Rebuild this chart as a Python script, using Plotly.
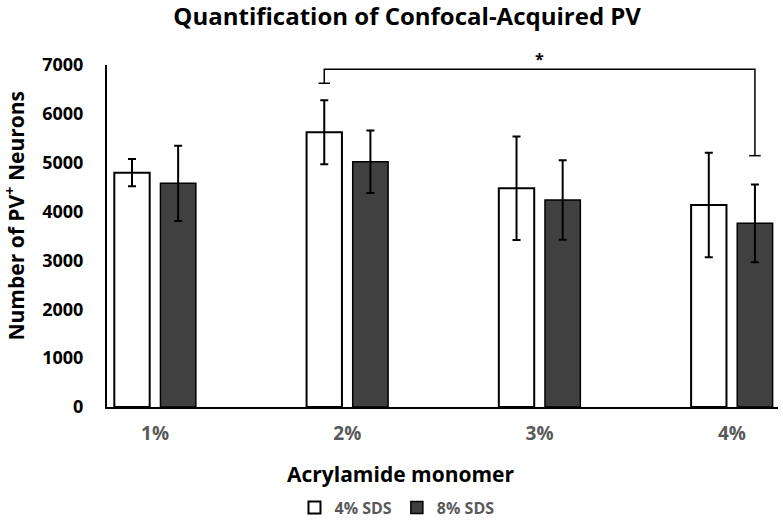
import plotly.graph_objects as go

categories = ["1%", "2%", "3%", "4%"]
sds4_mean = [4796, 5623, 4476, 4135]
sds4_err = [280, 655, 1060, 1068]
sds8_mean = [4579, 5021, 4237, 3760]
sds8_err = [770, 640, 815, 795]
y_ticks = [0, 1000, 2000, 3000, 4000, 5000, 6000, 7000]

# significance bracket between 2% (4% SDS) and 4% (8% SDS)
bracket_top = 6913
bracket_left_end = 6626
bracket_right_end = 5144
star_y = 7120
y_max = 7000

FONT = "Open Sans"
xs = list(range(len(categories)))
off = 0.12
bw = 0.184

fig = go.Figure()
fig.add_trace(go.Bar(
    x=[x - off for x in xs], y=sds4_mean, width=bw, name="<b>4% SDS</b>",
    marker=dict(color="white", line=dict(color="black", width=2)),
    error_y=dict(type="data", array=sds4_err, color="black", thickness=2, width=4),
))
fig.add_trace(go.Bar(
    x=[x + off for x in xs], y=sds8_mean, width=bw, name="<b>8% SDS</b>",
    marker=dict(color="#404040", line=dict(color="black", width=1.5)),
    error_y=dict(type="data", array=sds8_err, color="black", thickness=2, width=4),
))

xl = 1 - off
xr = 3 + off
cap = 0.03
fig.add_trace(go.Scatter(
    x=[xl, xl, xr, xr, None, xl - cap, xl + cap, None, xr - cap, xr + cap],
    y=[bracket_left_end, bracket_top, bracket_top, bracket_right_end, None,
       bracket_left_end, bracket_left_end, None, bracket_right_end, bracket_right_end],
    mode="lines", line=dict(color="black", width=1.5), showlegend=False, hoverinfo="skip",
))

fig.update_layout(
    width=783, height=520,
    margin=dict(l=107, r=5, t=65, b=113, autoexpand=False),
    paper_bgcolor="white", plot_bgcolor="white",
    barmode="overlay",
    title=dict(text="<b>Quantification of Confocal-Acquired PV</b>", x=0.52, xanchor="center",
               xref="container", yref="container",
               y=0.969, yanchor="middle", font=dict(family=FONT, size=24, color="black")),
    showlegend=True,
    legend=dict(orientation="h", xref="container", yref="container",
                x=0.507, xanchor="center", y=0.024, yanchor="middle",
                font=dict(family=FONT, size=16, color="#595959"), traceorder="normal",
                itemwidth=30),
    xaxis=dict(range=[-0.25, 3.24], tickvals=xs, ticktext=["<b>%s</b>" % c for c in categories],
               showline=True, linecolor="black", linewidth=2, showgrid=False, zeroline=False,
               ticks="outside", ticklen=8, tickcolor="rgba(0,0,0,0)", automargin=False,
               tickfont=dict(family=FONT, size=19, color="#595959")),
    yaxis=dict(range=[0, y_max], tickvals=y_ticks, ticktext=["<b>%d</b>" % v for v in y_ticks],
               showline=True, linecolor="black", linewidth=2, showgrid=False, zeroline=False,
               ticks="outside", ticklen=18, tickcolor="rgba(0,0,0,0)", automargin=False,
               tickfont=dict(family=FONT, size=18, color="black")),
    annotations=[
        dict(text="<b>Acrylamide monomer</b>", xref="paper", yref="paper", x=0.438, y=-0.196,
             showarrow=False, xanchor="center", yanchor="middle",
             font=dict(family=FONT, size=21, color="black")),
        dict(text="<b>Number of PV<sup>+</sup> Neurons</b>", xref="paper", yref="paper",
             x=-0.138, y=0.561, textangle=-90, showarrow=False, xanchor="center", yanchor="middle",
             font=dict(family=FONT, size=21, color="black")),
        dict(text="<b>*</b>", xref="x", yref="paper", x=2, y=star_y / y_max,
             showarrow=False, xanchor="center", yanchor="middle",
             font=dict(family=FONT, size=16, color="black")),
    ],
)

fig.write_html("out.html", config={"displayModeBar": False},
               post_script="document.body.style.margin='0px';")
